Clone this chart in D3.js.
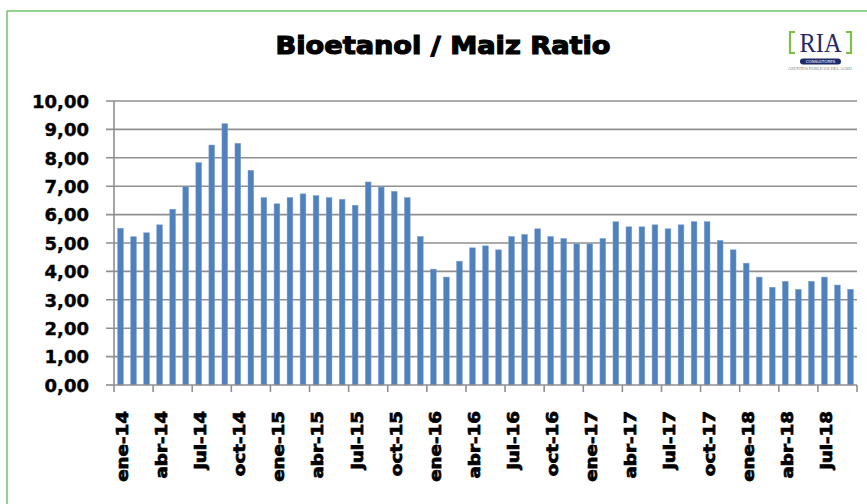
<!DOCTYPE html>
<html>
<head>
<meta charset="utf-8">
<script src="https://cdn.jsdelivr.net/npm/d3@7"></script>
<style>
  html, body { margin: 0; padding: 0; background: #fff; }
  svg { display: block; }
</style>
</head>
<body>
<script>
// ---- Data ----
const months = ["ene","feb","mar","abr","may","jun","jul","ago","sep","oct","nov","dic"];
const categories = [];
for (let yr = 14; yr <= 18; yr++) {
  for (let m = 0; m < 12; m++) {
    if (yr === 18 && m > 8) break;
    categories.push(months[m] + "-" + yr);
  }
}
const values = [
  5.52, 5.22, 5.36, 5.64, 6.19, 6.98, 7.83, 8.45, 9.20, 8.51, 7.56, 6.60,
  6.38, 6.60, 6.73, 6.67, 6.60, 6.54, 6.33, 7.15, 6.97, 6.82, 6.60, 5.23,
  4.08, 3.80, 4.36, 4.83, 4.90, 4.76, 5.23, 5.30, 5.50, 5.23, 5.16, 4.97,
  4.97, 5.16, 5.75, 5.57, 5.57, 5.64, 5.50, 5.64, 5.75, 5.75, 5.09, 4.76,
  4.29, 3.80, 3.44, 3.65, 3.37, 3.65, 3.80, 3.52, 3.37
];
const yTicks = [0,1,2,3,4,5,6,7,8,9,10];
const title = "Bioetanol / Maiz Ratio";

// ---- Layout ----
const W = 867, H = 504;
const plot = { left: 114, right: 857, top: 101, bottom: 385 };

const svg = d3.select("body").append("svg").attr("width", W).attr("height", H);

// outer green border
svg.append("rect").attr("x", 7).attr("y", 11).attr("width", 880).attr("height", 520)
  .attr("fill", "#fff").attr("stroke", "#72c46e").attr("stroke-width", 1.5);

const x = d3.scaleBand().domain(categories).range([plot.left, plot.right])
  .paddingInner(0.56).paddingOuter(0.28);
const y = d3.scaleLinear().domain([0, 10]).range([plot.bottom, plot.top]);

// gridlines
svg.append("g").selectAll("line").data(yTicks.filter(d => d > 0)).join("line")
  .attr("x1", plot.left - 8).attr("x2", plot.right)
  .attr("y1", d => y(d)).attr("y2", d => y(d))
  .attr("stroke", "#8f8f8f").attr("stroke-width", 1.6);

// y axis line + ticks
svg.append("line").attr("x1", plot.left).attr("x2", plot.left)
  .attr("y1", plot.top).attr("y2", plot.bottom)
  .attr("stroke", "#8f8f8f").attr("stroke-width", 1.6);
svg.append("line").attr("x1", plot.left - 8).attr("x2", plot.left)
  .attr("y1", y(0)).attr("y2", y(0))
  .attr("stroke", "#8f8f8f").attr("stroke-width", 1.6);

// y labels
const fmt = d => d3.format(".2f")(d).replace(".", ",");
svg.append("g").selectAll("text").data(yTicks).join("text")
  .attr("x", 89).attr("y", d => y(d)).attr("dy", "0.38em")
  .attr("text-anchor", "end")
  .attr("font-family", "DejaVu Sans").attr("font-weight", "bold")
  .attr("font-size", 18).attr("fill", "#000")
  .attr("stroke", "#000").attr("stroke-width", 0.4)
  .text(fmt);

// bars
svg.append("g").selectAll("rect").data(values).join("rect")
  .attr("x", (d, i) => x(categories[i]))
  .attr("width", x.bandwidth())
  .attr("y", d => y(d))
  .attr("height", d => y(0) - y(d))
  .attr("fill", "#4f81bd")
  .attr("stroke", "#7ea3d0").attr("stroke-width", 0.5);

// x axis line
svg.append("line").attr("x1", plot.left).attr("x2", plot.right)
  .attr("y1", y(0)).attr("y2", y(0))
  .attr("stroke", "#8f8f8f").attr("stroke-width", 1.6);

// x ticks at category boundaries every 3
const gap = (x.step() - x.bandwidth()) / 2;
const tickPos = categories.filter((c, i) => i % 3 === 0).map(c => x(c) - gap);
tickPos.push(plot.right);
svg.append("g").selectAll("line").data(tickPos).join("line")
  .attr("x1", d => d).attr("x2", d => d)
  .attr("y1", y(0)).attr("y2", y(0) + 7)
  .attr("stroke", "#8f8f8f").attr("stroke-width", 1.6);

// x labels
const labelCats = categories.filter((c, i) => i % 3 === 0);
svg.append("g").selectAll("text").data(labelCats).join("text")
  .attr("transform", d => `translate(${x(d) + x.bandwidth() / 2 + 2},411) rotate(-90) scale(1.22,1)`)
  .attr("text-anchor", "end").attr("dy", "0.36em")
  .attr("font-family", "DejaVu Sans").attr("font-weight", "bold")
  .attr("font-size", 15).attr("fill", "#000")
  .attr("stroke", "#000").attr("stroke-width", 0.7)
  .text(d => d);

// title
svg.append("text").attr("x", 443).attr("y", 54)
  .attr("text-anchor", "middle")
  .attr("font-family", "DejaVu Sans").attr("font-weight", "bold")
  .attr("font-size", 25).attr("fill", "#000")
  .attr("stroke", "#000").attr("stroke-width", 1.2)
  .attr("textLength", 335).attr("lengthAdjust", "spacingAndGlyphs")
  .text(title);

// logo
const logo = svg.append("g");
const green = "#7cc242";
logo.append("path").attr("d", "M795,32 L790,32 L790,53 L795,53")
  .attr("fill", "none").attr("stroke", green).attr("stroke-width", 2.2);
logo.append("path").attr("d", "M846,32 L851,32 L851,53 L846,53")
  .attr("fill", "none").attr("stroke", green).attr("stroke-width", 2.2);
logo.append("text").attr("x", 820.5).attr("y", 52).attr("text-anchor", "middle")
  .attr("font-family", "Liberation Serif").attr("font-size", 28).attr("fill", "#1f2a6e")
  .attr("textLength", 42).attr("lengthAdjust", "spacingAndGlyphs")
  .text("RIA");
logo.append("rect").attr("x", 800).attr("y", 58.5).attr("width", 41).attr("height", 6)
  .attr("rx", 3).attr("fill", "#1f2a6e");
logo.append("text").attr("x", 820.5).attr("y", 63.3).attr("text-anchor", "middle")
  .attr("font-family", "DejaVu Sans").attr("font-size", 4).attr("fill", "#fff")
  .text("CONSULTORES");
logo.append("text").attr("x", 820).attr("y", 70).attr("text-anchor", "middle")
  .attr("font-family", "Liberation Serif").attr("font-size", 3.5).attr("fill", "#777")
  .attr("textLength", 64).attr("lengthAdjust", "spacingAndGlyphs")
  .text("ASUNTOS PÚBLICOS DEL AGRO");
</script>
</body>
</html>
